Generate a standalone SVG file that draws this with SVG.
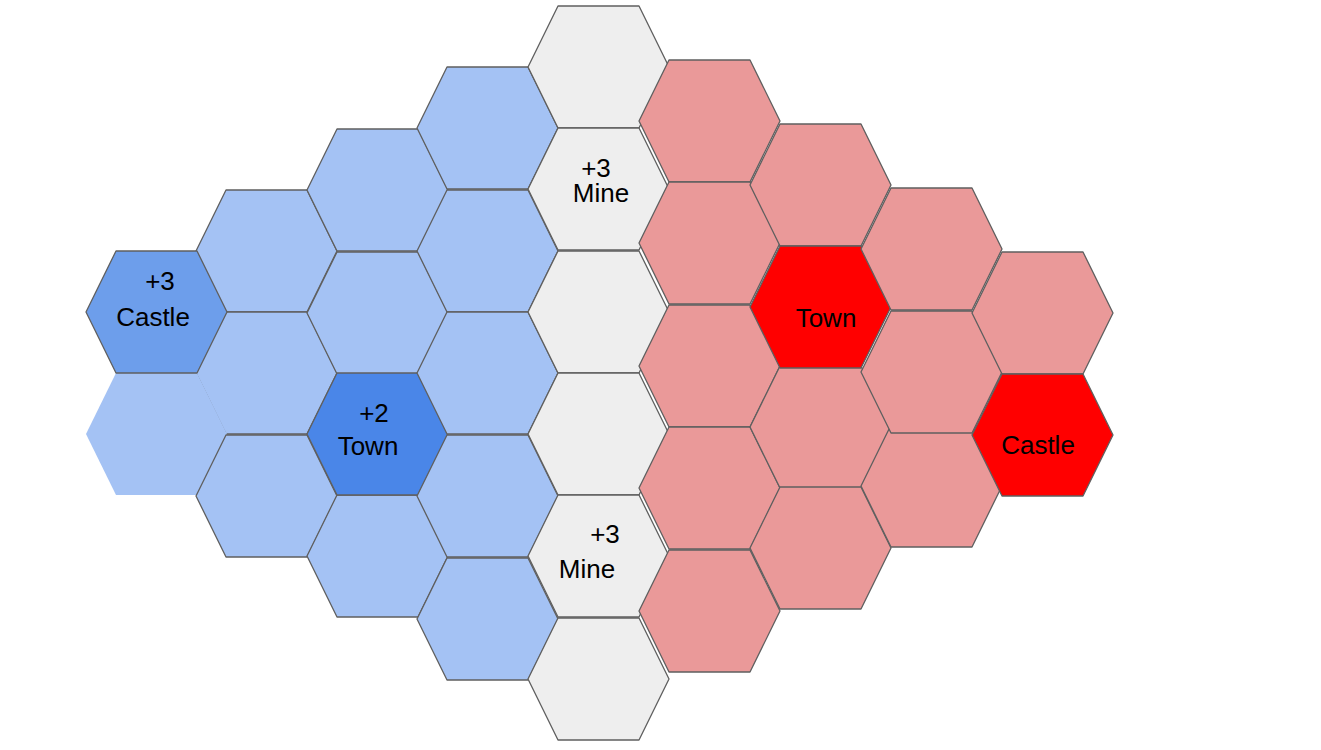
<svg xmlns="http://www.w3.org/2000/svg" xmlns:xlink="http://www.w3.org/1999/xlink" width="1321" height="750" viewBox="0 0 1321 750">
<style>
.h{stroke:#5f5f5f;stroke-width:1.3;stroke-linejoin:round}
.lb{fill:#a4c2f4}.cb{fill:#6d9eeb}.tb{fill:#4a86e8}
.gr{fill:#eeeeee}.lr{fill:#ea9999}.rr{fill:#ff0000}
.ns{stroke:none}
text{font-family:Arial,"Liberation Sans",sans-serif;font-size:26px;fill:#000;text-anchor:middle}
</style>
<defs>
<polygon id="hex" points="30,0 111,0 141,61 111,122 30,122 0,61"/>
</defs>
<rect width="1321" height="750" fill="#ffffff"/>
<g id="blue">
<g id="b-c1-1"><use href="#hex" class="h lb" x="196" y="190"/></g>
<g id="b-c1-2"><use href="#hex" class="h lb" x="196" y="312"/></g>
<g id="b-c0-2"><use href="#hex" class="lb ns" x="86" y="373"/></g>
<g id="b-c1-3"><use href="#hex" class="h lb" x="196" y="435"/></g>
<g id="blue-castle"><use href="#hex" class="h cb" x="86" y="251"/><text x="160" y="290">+3</text><text x="153" y="326">Castle</text></g>
<g id="b-c2-1"><use href="#hex" class="h lb" x="307" y="129"/></g>
<g id="b-c2-2"><use href="#hex" class="h lb" x="307" y="252"/></g>
<g id="b-c2-4"><use href="#hex" class="h lb" x="307" y="495"/></g>
<g id="blue-town"><use href="#hex" class="h tb" x="307" y="373"/><text x="374" y="422">+2</text><text x="368" y="455">Town</text></g>
<g id="b-c3-1"><use href="#hex" class="h lb" x="417" y="67"/></g>
<g id="b-c3-2"><use href="#hex" class="h lb" x="417" y="190"/></g>
<g id="b-c3-3"><use href="#hex" class="h lb" x="417" y="312"/></g>
<g id="b-c3-4"><use href="#hex" class="h lb" x="417" y="435"/></g>
<g id="b-c3-5"><use href="#hex" class="h lb" x="417" y="558"/></g>
</g>
<g id="neutral">
<g id="g-1"><use href="#hex" class="h gr" x="528" y="6"/></g>
<g id="mine-top"><use href="#hex" class="h gr" x="528" y="128"/><text x="596" y="177">+3</text><text x="601" y="202">Mine</text></g>
<g id="g-3"><use href="#hex" class="h gr" x="528" y="251"/></g>
<g id="g-4"><use href="#hex" class="h gr" x="528" y="373"/></g>
<g id="mine-bottom"><use href="#hex" class="h gr" x="528" y="495"/><text x="605" y="543">+3</text><text x="587" y="578">Mine</text></g>
<g id="g-6"><use href="#hex" class="h gr" x="528" y="618"/></g>
</g>
<g id="red">
<g id="r-c5-1"><use href="#hex" class="h lr" x="639" y="60"/></g>
<g id="r-c5-2"><use href="#hex" class="h lr" x="639" y="182"/></g>
<g id="r-c5-3"><use href="#hex" class="h lr" x="639" y="305"/></g>
<g id="r-c5-4"><use href="#hex" class="h lr" x="639" y="427"/></g>
<g id="r-c5-5"><use href="#hex" class="h lr" x="639" y="550"/></g>
<g id="r-c6-1"><use href="#hex" class="h lr" x="750" y="124"/></g>
<g id="r-c6-3"><use href="#hex" class="h lr" x="750" y="366"/></g>
<g id="r-c6-4"><use href="#hex" class="h lr" x="750" y="487"/></g>
<g id="red-town"><use href="#hex" class="h rr" x="750" y="246"/><text x="826" y="327">Town</text></g>
<g id="r-c7-1"><use href="#hex" class="h lr" x="861" y="188"/></g>
<g id="r-c7-3"><use href="#hex" class="h lr" x="861" y="425"/></g>
<g id="r-c7-2"><use href="#hex" class="h lr" x="861" y="311"/></g>
<g id="r-c8-1"><use href="#hex" class="h lr" x="972" y="252"/></g>
<g id="red-castle"><use href="#hex" class="h rr" x="972" y="374"/><text x="1038" y="454">Castle</text></g>
</g>
<g id="connectors"/>
</svg>
